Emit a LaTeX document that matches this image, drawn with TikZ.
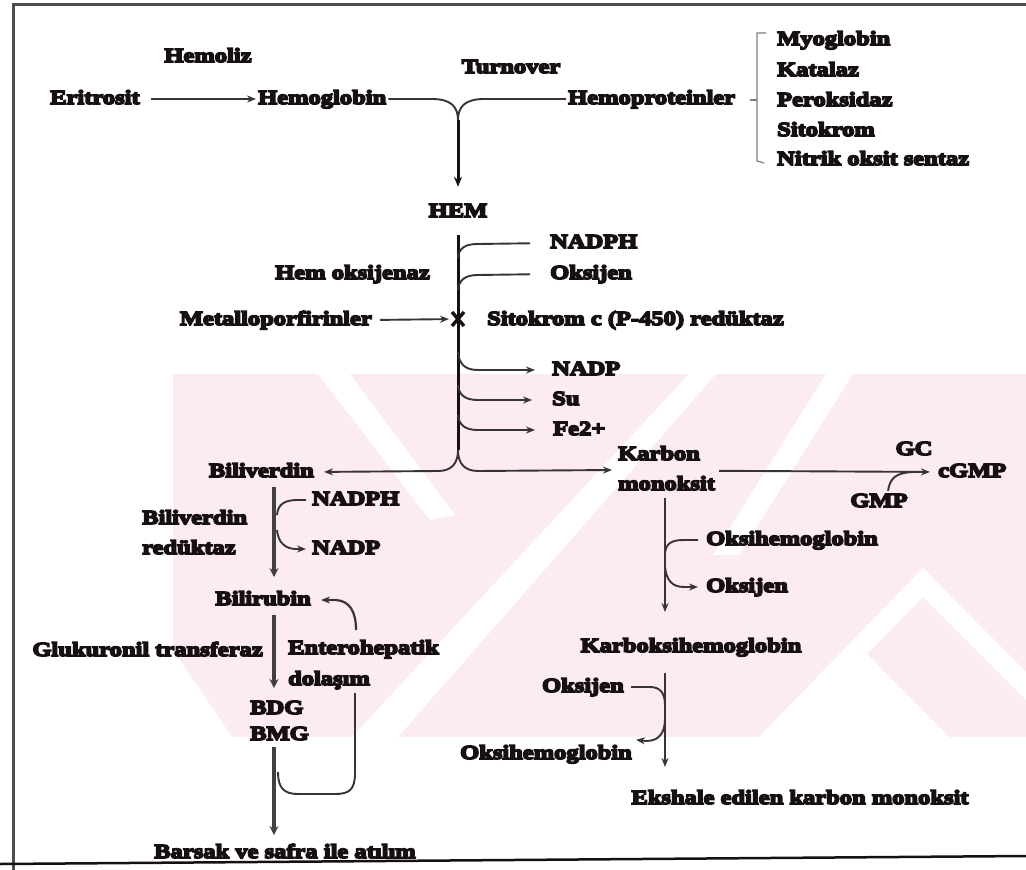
\documentclass[tikz,border=0pt]{standalone}
\usepackage{fontspec}
\newfontfamily\hv{Liberation Serif Bold}[FakeStretch=1.23, FakeBold=8]
\usetikzlibrary{arrows.meta,calc}
\definecolor{wm}{RGB}{252,235,239}
\definecolor{ink}{RGB}{22,16,16}
\begin{document}
\begin{tikzpicture}[x=1bp,y=-1bp,
  t/.style={inner sep=0pt, text height=14bp, text depth=4bp, font=\hv\fontsize{20}{30}\selectfont, text=ink},
  ln/.style={draw=ink!85, line width=1.9bp},
  ar/.style={ln, -{Stealth[length=9bp,width=7bp]}},
  bar/.style={draw=ink!80, line width=4.8bp, -{Stealth[length=9bp,width=9bp]}},
  main/.style={draw=ink, line width=3bp},
  brk/.style={draw=ink!55, line width=1.2bp}]
\useasboundingbox (0,0) rectangle (1026,870);
\fill[white] (0,0) rectangle (1026,870);
% watermark
\fill[wm] (173,374) rectangle (1026,737);
\fill[white] (318,374) -- (350,374) -- (455,515) -- (430,520) -- cycle;
\fill[white] (689,374) -- (716,374) -- (398,737) -- (352,737) -- cycle;
\fill[white] (826,374) -- (853,374) -- (739,555) -- (713,555) -- cycle;
\fill[white] (853,640) -- (949,737) -- (759,737) -- cycle;
\fill[white] (853,640) -- (923,568) -- (1026,672) -- (1026,700) -- (923,597) -- (867,654) -- cycle;
\fill[white] (173,650) -- (232,737) -- (173,737) -- cycle;
% frame
\draw[line width=3bp, ink!75] (1026,4) -- (13,4) -- (13,870);
\draw[line width=2.5bp, ink] (0,864) -- (1026,856);
% nodes top
\node[t, anchor=base] (hml) at (208,62) {Hemoliz};
\node[t, anchor=base west] (eri) at (50,104) {Eritrosit};
\node[t, anchor=base west] (hgb) at (258,104) {Hemoglobin};
\node[t, anchor=base] (trn) at (511,73) {Turnover};
\node[t, anchor=base west] (hpr) at (568,104) {Hemoproteinler};
\node[t, anchor=base west] (myo) at (777,45) {Myoglobin};
\node[t, anchor=base west] (kat) at (777,76) {Katalaz};
\node[t, anchor=base west] (per) at (777,106) {Peroksidaz};
\node[t, anchor=base west] (sit) at (777,136) {Sitokrom};
\node[t, anchor=base west] (nit) at (777,165) {Nitrik oksit sentaz};
\node[t, anchor=base] (hem) at (458,217) {HEM};
% middle
\node[t, anchor=base west] (nadph) at (550,248) {NADPH};
\node[t, anchor=base west] (oks) at (550,279) {Oksijen};
\node[t, anchor=base east] (hox) at (430,279) {Hem oksijenaz};
\node[t, anchor=base east] (met) at (372,325) {Metalloporfirinler};
\node[t, anchor=base west] (cpr) at (487,325) {Sitokrom c (P-450) redüktaz};
\node[t, anchor=base west] (nadp) at (552,375) {NADP};
\node[t, anchor=base west] (su) at (552,405) {Su};
\node[t, anchor=base west] (fe) at (553,435) {Fe2+};
\node[t, anchor=base east] (bil) at (314,477) {Biliverdin};
\node[t, anchor=base west] (co1) at (618,460) {Karbon};
\node[t, anchor=base west] (co2) at (618,490) {monoksit};
\node[t, anchor=base] (gc) at (914,455) {GC};
\node[t, anchor=base west] (cgmp) at (938,477) {cGMP};
\node[t, anchor=base] (gmp) at (879,507) {GMP};
% lower left
\node[t, anchor=base west] (nadph2) at (312,505) {NADPH};
\node[t, anchor=base west] (nadp2) at (312,554) {NADP};
\node[t, anchor=base west] (bvr1) at (142,524) {Biliverdin};
\node[t, anchor=base west] (bvr2) at (142,554) {redüktaz};
\node[t, anchor=base east] (bir) at (311,605) {Bilirubin};
\node[t, anchor=base east] (glu) at (263,656) {Glukuronil transferaz};
\node[t, anchor=base west] (ent1) at (288,654) {Enterohepatik};
\node[t, anchor=base west] (ent2) at (288,685) {dolaşım};
\node[t, anchor=base west] (bdg) at (250,714) {BDG};
\node[t, anchor=base west] (bmg) at (250,740) {BMG};
\node[t, anchor=base] (bar) at (285,858) {Barsak ve safra ile atılım};
% lower right
\node[t, anchor=base west] (ohb) at (706,545) {Oksihemoglobin};
\node[t, anchor=base west] (oks3) at (706,592) {Oksijen};
\node[t, anchor=base] (kbx) at (691,652) {Karboksihemoglobin};
\node[t, anchor=base east] (oks4) at (624,692) {Oksijen};
\node[t, anchor=base east] (ohb2) at (632,759) {Oksihemoglobin};
\node[t, anchor=base] (eks) at (800,804) {Ekshale edilen karbon monoksit};
% coordinates
\coordinate (yj) at (458,120);
\coordinate (bj) at (458,450);
\coordinate (xm) at (458,319);
% top connectors
\draw[ar, shorten <=11bp, shorten >=2bp] (eri) -- (hgb);
\draw[ln] ($(hgb.east)+(2,0)$) -- (432,99) .. controls (450,99) and (458,106) .. (yj);
\draw[ln] ($(hpr.west)+(-2,0)$) -- (484,99) .. controls (466,99) and (458,106) .. (yj);
\draw[main, -{Stealth[length=10bp,width=8bp]}, shorten >=16bp] (yj) -- (hem.north);
\draw[brk] (766,33) -- (757,33) -- (757,161) -- (764,163);
\draw[brk] (757,100) -- (750,100);
% HEM pathway
\draw[main, shorten <=14bp] (hem.south) -- (bj);
\draw[ln, shorten >=20bp] (458,258) .. controls (459,248) and (465,244) .. (478,244) -- (nadph.west);
\draw[ln, shorten >=20bp] (458,290) .. controls (459,280) and (465,275) .. (478,275) -- (oks.west);
\draw[ar, shorten >=17bp] (458,352) .. controls (459,364) and (465,370) .. (478,370) -- (nadp.west);
\draw[ar, shorten >=20bp] (458,385) .. controls (459,395) and (465,400) .. (478,400) -- (su.west);
\draw[ar, shorten >=18bp] (458,415) .. controls (459,425) and (465,430) .. (478,430) -- (fe.west);
\draw[ar, shorten <=8bp, shorten >=9bp] (met.east) -- (xm);
\draw[line width=3.4bp, ink] ($(xm)+(-6,-7)$) -- ($(xm)+(6,7)$) ($(xm)+(6,-7)$) -- ($(xm)+(-6,7)$);
\draw[ar, shorten >=10bp] (bj) .. controls (458,463) and (452,471) .. (438,471) -- (bil.east);
\draw[ar] (bj) .. controls (458,463) and (464,471) .. (478,471) -- ($(co1.south west)!0.5!(co2.north west)+(-6,0)$);
% CO
\draw[ar, shorten >=8bp] ($(co2.north east)+(4,-5)$) -- (cgmp.west);
\draw[ln] ($(gmp.north)+(9,-2)$) .. controls (890,478) and (896,473) .. (912,472);
\draw[ar] (665,498) -- (665,612);
\draw[ln, shorten >=8bp] (665,553) .. controls (666,543) and (672,540) .. (684,540) -- (ohb.west);
\draw[ar, shorten >=8bp] (665,566) .. controls (666,580) and (672,587) .. (684,587) -- (oks3.west);
\draw[ar] (665,673) -- (665,767);
\draw[ar] ($(oks4.east)+(7,0)$) -- (650,687) .. controls (660,687) and (665,693) .. (665,705) -- (665,718) .. controls (665,732) and (660,741) .. (646,741) -- ($(ohb2.north east)+(4,-5)$);
% bilirubin
\draw[bar] (274,487) -- (274,577);
\draw[ln, shorten >=6bp] (277,515) .. controls (278,503) and (286,500) .. (298,500) -- (nadph2.west);
\draw[ar, shorten >=6bp] (277,530) .. controls (278,543) and (286,549) .. (296,549) -- (nadp2.west);
\draw[ar, line width=2.2bp, shorten >=10bp] (356,630) .. controls (356,612) and (350,601) .. (336,600) -- (bir.east);
\draw[bar] (274,615) -- (274,688);
\draw[bar] (274,747) -- (274,835);
\draw[ln] (355,693) -- (355,773) .. controls (355,790) and (349,794) .. (335,794) -- (298,794) .. controls (284,794) and (278,788) .. (278,772);
\end{tikzpicture}
\end{document}
